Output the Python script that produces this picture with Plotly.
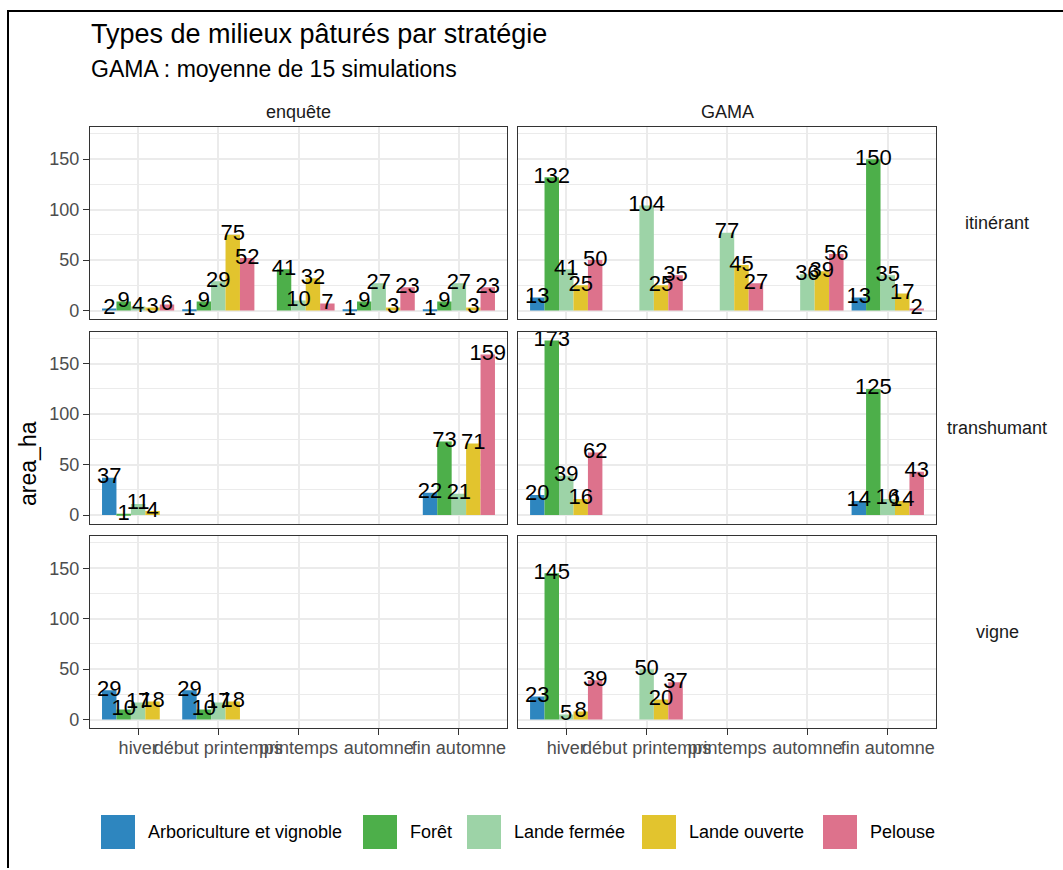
import plotly.graph_objects as go

# Periods on the x axis, land-cover types as dodged bars
periodes = ["hiver", "début printemps", "printemps", "automne", "fin automne"]
milieux = ["Arboriculture et vignoble", "Forêt", "Lande fermée", "Lande ouverte", "Pelouse"]
couleurs = ["#2E86BF", "#4DAF4A", "#9DD3A7", "#E2C42E", "#DD728C"]
sources = ["enquête", "GAMA"]
strategies = ["itinérant", "transhumant", "vigne"]

# Grazed area (ha): one row per land-cover type, one column per period
enquete_itinerant = [
    [2, 1, None, 1, 1],
    [9, 9, 41, 9, 9],
    [4, 29, 10, 27, 27],
    [3, 75, 32, 3, 3],
    [6, 52, 7, 23, 23],
]
gama_itinerant = [
    [13, None, None, None, 13],
    [132, None, None, None, 150],
    [41, 104, 77, 36, 35],
    [25, 25, 45, 39, 17],
    [50, 35, 27, 56, 2],
]
enquete_transhumant = [
    [37, None, None, None, 22],
    [1, None, None, None, 73],
    [11, None, None, None, 21],
    [4, None, None, None, 71],
    [None, None, None, None, 159],
]
gama_transhumant = [
    [20, None, None, None, 14],
    [173, None, None, None, 125],
    [39, None, None, None, 16],
    [16, None, None, None, 14],
    [62, None, None, None, 43],
]
enquete_vigne = [
    [29, 29, None, None, None],
    [10, 10, None, None, None],
    [17, 17, None, None, None],
    [18, 18, None, None, None],
    [None, None, None, None, None],
]
gama_vigne = [
    [23, None, None, None, None],
    [145, None, None, None, None],
    [5, 50, None, None, None],
    [8, 20, None, None, None],
    [39, 37, None, None, None],
]

panneaux = {
    ("itinérant", "enquête"): enquete_itinerant,
    ("itinérant", "GAMA"): gama_itinerant,
    ("transhumant", "enquête"): enquete_transhumant,
    ("transhumant", "GAMA"): gama_transhumant,
    ("vigne", "enquête"): enquete_vigne,
    ("vigne", "GAMA"): gama_vigne,
}

W, H = 1063, 870
FONT = "Liberation Sans, Arial, Helvetica, sans-serif"


def fx(p):
    return p / W


def fy(p):
    return 1 - p / H


col_px = [(90, 507), (518, 936)]
row_px = [(127.5, 320), (332.5, 525), (537.5, 730)]

# dodge: 0.9 of each category split between the land-cover types
largeur_groupe = 0.9
n = len(milieux)
slot = largeur_groupe / n
positions = list(range(1, len(periodes) + 1))

ymax = max(v for tab in panneaux.values() for row in tab for v in row if v is not None)
ypad = 0.05 * ymax
yrange = [-ypad, ymax + ypad]

fig = go.Figure()
layout_axes = {}

for r, strat in enumerate(strategies):
    for c, src in enumerate(sources):
        k = r * 2 + c + 1
        xa = "x" if k == 1 else f"x{k}"
        ya = "y" if k == 1 else f"y{k}"
        data = panneaux[(strat, src)]
        for i, (nom, coul) in enumerate(zip(milieux, couleurs)):
            vals = data[i]
            off = -largeur_groupe / 2 + slot * i
            fig.add_trace(go.Bar(
                x=positions, y=vals, width=slot, offset=off,
                marker=dict(color=coul, line=dict(width=0)),
                name=nom, showlegend=False, hoverinfo="skip",
                xaxis=xa, yaxis=ya,
            ))
            tx = [p + off + slot / 2 for p, v in zip(positions, vals) if v is not None]
            ty = [v for v in vals if v is not None]
            fig.add_trace(go.Scatter(
                x=tx, y=ty, mode="text", text=[str(v) for v in ty],
                textposition="middle center",
                textfont=dict(family=FONT, size=22, color="black"),
                showlegend=False, hoverinfo="skip", xaxis=xa, yaxis=ya,
            ))
        x0, x1 = col_px[c]
        y0, y1 = row_px[r]
        bottom = r == len(strategies) - 1
        left = c == 0
        layout_axes["xaxis" if k == 1 else f"xaxis{k}"] = dict(
            domain=[fx(x0), fx(x1)], anchor=ya, range=[0.4, len(periodes) + 0.6],
            tickmode="array", tickvals=positions, ticktext=periodes,
            showticklabels=bottom, ticks="outside" if bottom else "",
            ticklen=6, tickwidth=1.2, tickcolor="#333333", tickangle=0,
            ticklabelstandoff=-3,
            tickfont=dict(family=FONT, size=18, color="#4D4D4D"),
            showgrid=True, gridcolor="#EBEBEB", gridwidth=1.6,
            zeroline=False, showline=True, mirror=True,
            linecolor="#333333", linewidth=1.2, fixedrange=True,
        )
        layout_axes["yaxis" if k == 1 else f"yaxis{k}"] = dict(
            domain=[fy(y1), fy(y0)], anchor=xa, range=yrange,
            tickmode="array", tickvals=[0, 50, 100, 150],
            showticklabels=left, ticks="outside" if left else "",
            ticklen=6, tickwidth=1.2, tickcolor="#333333",
            tickfont=dict(family=FONT, size=18, color="#4D4D4D"),
            showgrid=True, gridcolor="#EBEBEB", gridwidth=1.6,
            minor=dict(tickmode="array", tickvals=[25, 75, 125, 175],
                       showgrid=True, gridcolor="#EBEBEB", gridwidth=0.8, ticks=""),
            zeroline=False, showline=True, mirror=True,
            linecolor="#333333", linewidth=1.2, fixedrange=True,
        )


def texte(t, x, y, size, color="black", xanchor="left", angle=0):
    return dict(text=t, x=fx(x), y=fy(y), xref="paper", yref="paper",
                xanchor=xanchor, yanchor="middle", showarrow=False, textangle=angle,
                font=dict(family=FONT, size=size, color=color))


annotations = [
    texte("Types de milieux pâturés par stratégie", 89, 34, 27),
    texte("GAMA : moyenne de 15 simulations", 89, 69, 23),
    texte("area_ha", 28, 465, 23, xanchor="center", angle=-90),
]
for c, src in enumerate(sources):
    x0, x1 = col_px[c]
    annotations.append(texte(src, (x0 + x1) / 2, 112, 18, "#1A1A1A", "center"))
for r, strat in enumerate(strategies):
    y0, y1 = row_px[r]
    annotations.append(texte(strat, 997, (y0 + y1) / 2, 18, "#1A1A1A", "center"))

shapes = [
    dict(type="line", xref="paper", yref="paper", x0=fx(8), x1=fx(8), y0=fy(11), y1=fy(H),
         line=dict(color="black", width=2)),
    dict(type="line", xref="paper", yref="paper", x0=fx(7), x1=fx(W), y0=fy(11), y1=fy(11),
         line=dict(color="black", width=2)),
]

# legend drawn along the bottom: coloured keys followed by labels
cles_x = [101, 363, 467, 642, 823]
for nom, coul, kx in zip(milieux, couleurs, cles_x):
    shapes.append(dict(type="rect", xref="paper", yref="paper",
                       x0=fx(kx), x1=fx(kx + 34), y0=fy(851), y1=fy(817),
                       fillcolor=coul, line=dict(width=0)))
    annotations.append(texte(nom, kx + 45, 834, 18))

fig.update_layout(
    width=W, height=H, margin=dict(l=0, r=0, t=0, b=0),
    paper_bgcolor="white", plot_bgcolor="white",
    barmode="overlay", showlegend=False,
    annotations=annotations, shapes=shapes,
    font=dict(family=FONT),
    **layout_axes,
)

fig.write_html("out.html")
